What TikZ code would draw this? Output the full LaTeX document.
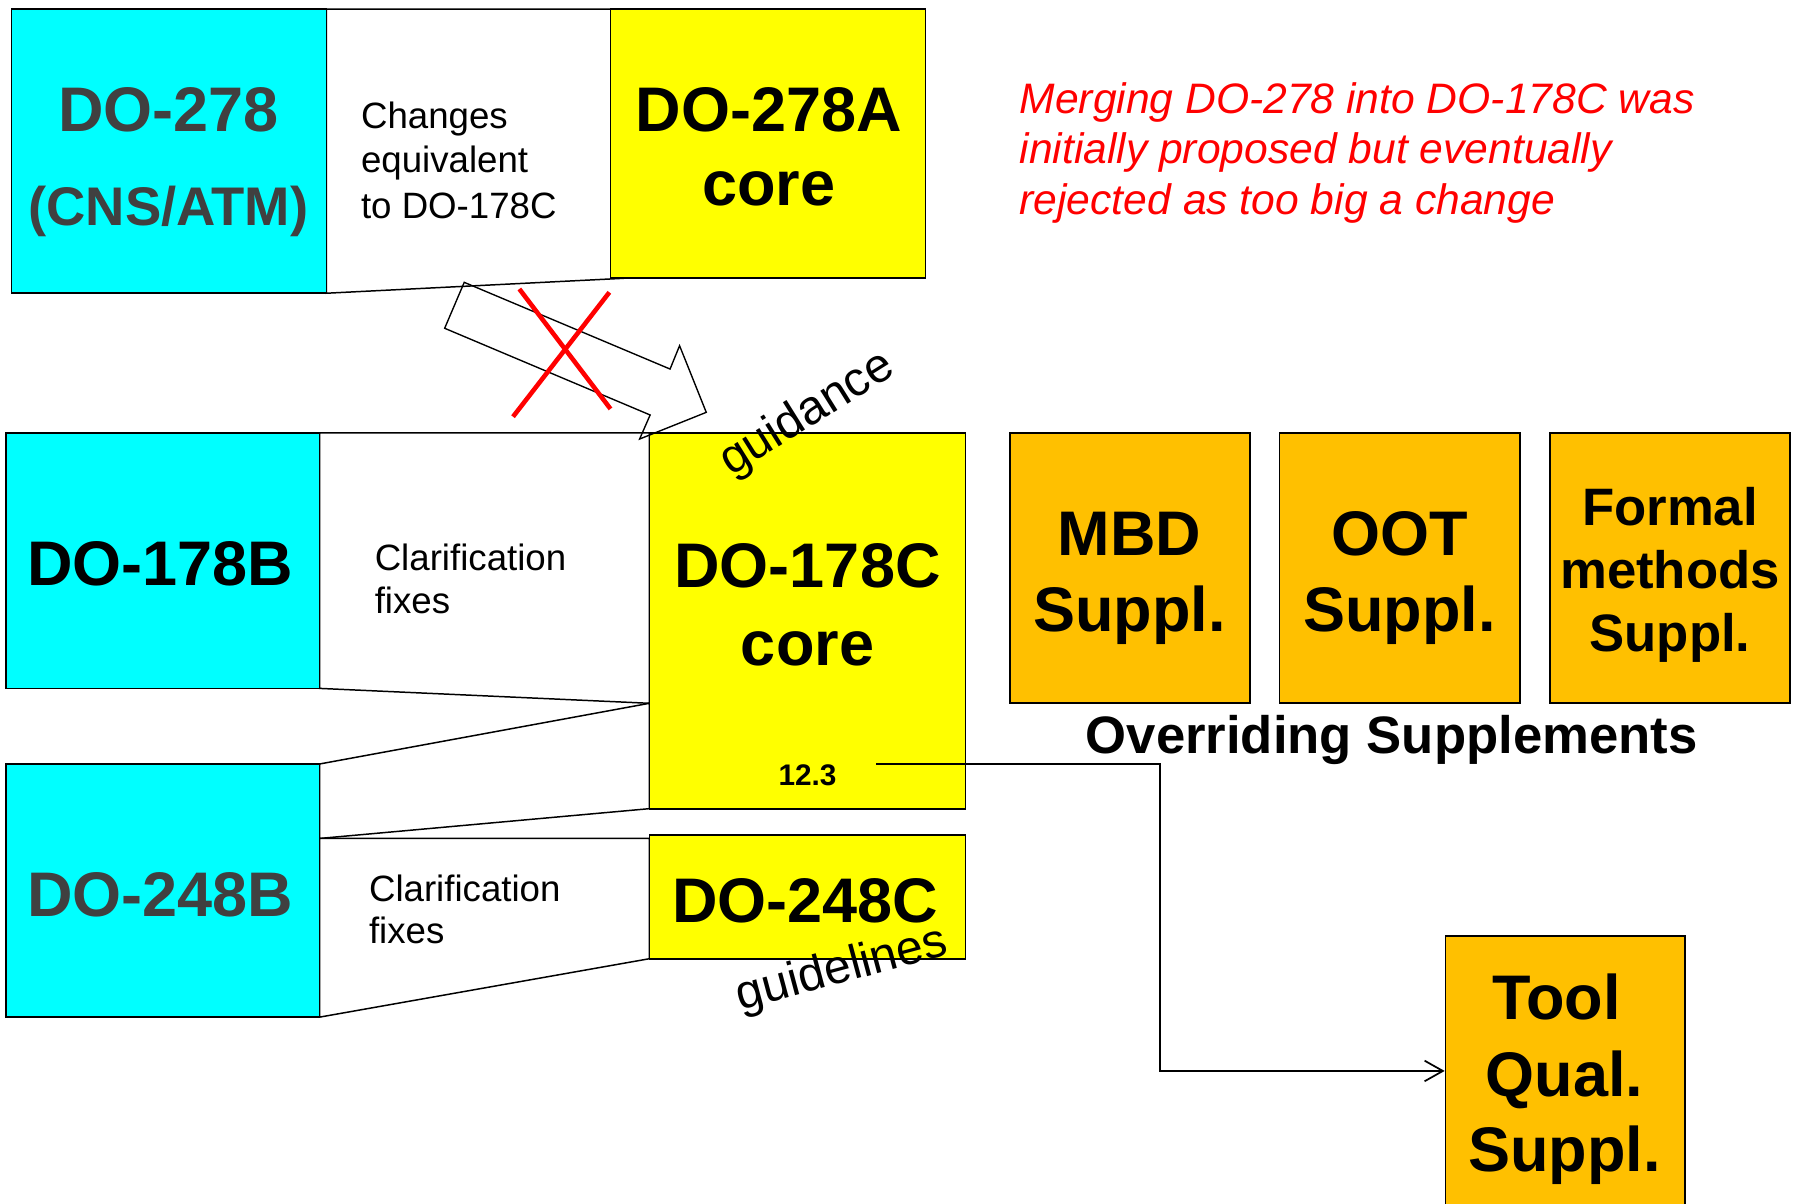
\documentclass[tikz,border=0pt]{standalone}
\usepackage{fontspec}
\setmainfont{Liberation Sans}
\usetikzlibrary{arrows.meta,calc}
\definecolor{cy}{HTML}{00FFFF}
\definecolor{yl}{HTML}{FFFF00}
\definecolor{orng}{HTML}{FFC000}
\definecolor{dg}{HTML}{404040}
\newcommand\myfs[1]{\fontsize{#1}{#1}\selectfont}
\begin{document}
\begin{tikzpicture}[x=1pt,y=-1pt,
  box/.style={draw=black,line width=1.5pt,inner sep=0pt,anchor=center},
  cbox/.style={box,fill=cy},
  ybox/.style={box,fill=yl},
  obox/.style={box,fill=orng},
  big/.style={font=\bfseries\myfs{55}},
  mid/.style={font=\bfseries\myfs{46}},
  reg/.style={font=\myfs{32}},
  txt/.style={inner sep=0pt,anchor=base},
  ltxt/.style={inner sep=0pt,anchor=base west},
  trap/.style={draw=black,line width=1.3pt,fill=white,line join=miter},
  conn/.style={draw=black,line width=1.5pt,-{Straight Barb[length=16pt,width=18pt,line width=1.5pt]}},
  cross/.style={draw=red,line width=4pt},
  blockarrow/.style={draw=black,line width=1.2pt}
]
\path[use as bounding box] (0,0) rectangle (1568,1051);
\clip (0,0) rectangle (1568,1051);

% connecting trapezoids
\draw[trap] (285,8) -- (573,8) -- (544,243) -- (285,256) -- cycle;
\draw[trap] (279,378) -- (567,378) -- (567,614) -- (279,601) -- cycle;
\draw[trap] (279,667) -- (567,614) -- (567,706) -- (279,732) -- cycle;
\draw[trap] (279,732) -- (567,732) -- (567,837) -- (279,888) -- cycle;

% boxes
\node[cbox,minimum width=275pt,minimum height=248pt] (do278) at (147.5,132) {};
\node[ybox,minimum width=275pt,minimum height=235pt] (do278a) at (670.5,125.5) {};
\node[cbox,minimum width=274pt,minimum height=223pt] (do178b) at (142,489.5) {};
\node[ybox,minimum width=276pt,minimum height=328pt] (do178c) at (705,542) {};
\node[cbox,minimum width=274pt,minimum height=221pt] (do248b) at (142,777.5) {};
\node[ybox,minimum width=276pt,minimum height=108pt] (do248c) at (705,783) {};
\node[obox,minimum width=209pt,minimum height=236pt] (mbd) at (986.5,496) {};
\node[obox,minimum width=210pt,minimum height=236pt] (oot) at (1222,496) {};
\node[obox,minimum width=210pt,minimum height=236pt] (fm) at (1458,496) {};
\node[obox,minimum width=209pt,minimum height=236pt] (tool) at (1366.5,935) {};

% texts row 1
\node[txt,big,text=dg] (t278a) at (147,115) {DO-278};
\node[txt,font=\bfseries\myfs{47.5},text=dg] (t278b) at (147,197) {(CNS/ATM)};
\node[ltxt,reg] (tch1) at (315,112) {Changes};
\node[ltxt,reg] (tch2) at (315,151) {equivalent};
\node[ltxt,reg] (tch3) at (315,191) {to DO-178C};
\node[txt,big] (t278Aa) at (671,115) {DO-278A};
\node[txt,big] (t278Ab) at (671,179) {core};
\node[ltxt,font=\itshape\myfs{37.2},text=red] (r1) at (890,99) {Merging DO-278 into DO-178C was};
\node[ltxt,font=\itshape\myfs{37.2},text=red] (r2) at (890,143) {initially proposed but eventually};
\node[ltxt,font=\itshape\myfs{37.2},text=red] (r3) at (890,187) {rejected as too big a change};

% texts row 2
\node[txt,big] (t178b) at (140,511) {DO-178B};
\node[ltxt,font=\myfs{32}] (cf1) at (327,498) {Clarification};
\node[ltxt,font=\myfs{32}] (cf2) at (327,536) {fixes};
\node[txt,big] (t178ca) at (705,513) {DO-178C};
\node[txt,big] (t178cb) at (705,581) {core};
\node[txt,font=\bfseries\myfs{26}] (t123) at (705,686) {12.3};
\node[inner sep=0pt,rotate=32,font=\myfs{42}] (guid) at (705,362) {guidance};

% texts row 3
\node[txt,big,text=dg] (t248b) at (140,800) {DO-248B};
\node[ltxt,font=\myfs{32}] (cf3) at (322,787) {Clarification};
\node[ltxt,font=\myfs{32}] (cf4) at (322,824) {fixes};
\node[txt,big] (t248c) at (703,805) {DO-248C};
\node[inner sep=0pt,rotate=15,font=\myfs{42}] (guidl) at (735,847) {guidelines};

% supplements
\node[txt,big] (mbd1) at (986,485) {MBD};
\node[txt,big] (mbd2) at (986,551) {Suppl.};
\node[txt,big] (oot1) at (1222,485) {OOT};
\node[txt,big] (oot2) at (1222,551) {Suppl.};
\node[txt,mid] (fm1) at (1458,459) {Formal};
\node[txt,mid] (fm2) at (1458,514) {methods};
\node[txt,mid] (fm3) at (1458,569) {Suppl.};
\node[txt,mid] (over) at (1215,658) {Overriding Supplements};
\node[txt,big] (tq1) at (1359,890) {Tool};
\node[txt,big] (tq2) at (1366,957) {Qual.};
\node[txt,big] (tq3) at (1366,1023) {Suppl.};

% connector from 12.3 to tool qualification
\coordinate (c123) at (765,667);
\coordinate (bend) at (1013,667);
\draw[conn] (c123) -- (bend) |- (tool.west);

% rejected merge arrow
\draw[blockarrow] (405.3,246.5) -- (585,322.2) -- (593.3,301.8) -- (616.6,360) -- (558.4,383.3) -- (567.6,362.3) -- (388.2,286.6) -- cycle;
\draw[cross] (453.4,252.3) -- (533,357);
\draw[cross] (532,255.2) -- (447.9,363.8);
\end{tikzpicture}
\end{document}
